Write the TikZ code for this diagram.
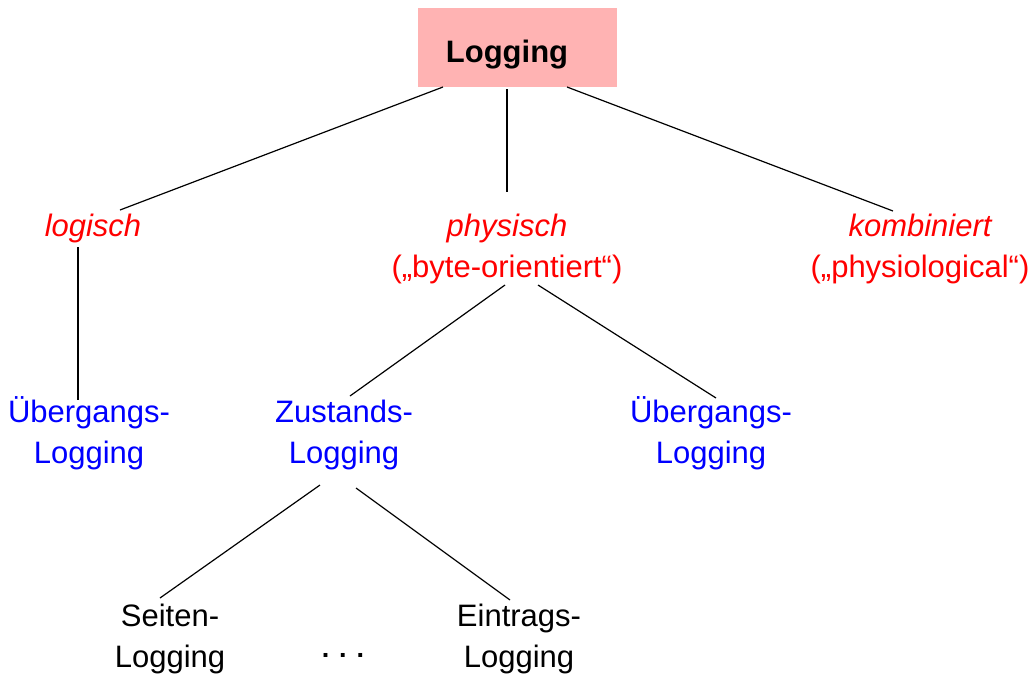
\documentclass[tikz,border=0pt]{standalone}
\usepackage{fontspec}
\setmainfont{Liberation Sans}
\definecolor{boxpink}{HTML}{FFB3B3}
\definecolor{redtxt}{HTML}{FF0000}
\definecolor{bluetxt}{HTML}{0000FF}
\tikzset{
  lbl/.style={align=center, inner sep=0pt, anchor=base, font=\fontsize{31}{41}\selectfont},
  cat/.style={lbl, text=redtxt},
  kind/.style={lbl, text=bluetxt},
  leaf/.style={lbl, text=black},
  conn/.style={draw=black, line width=1.2pt},
}
\begin{document}
\begin{tikzpicture}[x=1pt,y=-1pt]
\useasboundingbox (0,0) rectangle (1035,675);
\node[fill=boxpink, minimum width=199pt, minimum height=79pt, inner sep=0pt] (top) at (517.5,47.5) {};
\node[inner sep=0pt, anchor=base, font=\fontsize{31}{37}\selectfont\bfseries] (toptxt) at (507,62) {Logging};
\node[cat] (log) at (93,236) {\itshape logisch};
\node[cat] (phys) at (507,277) {\itshape physisch\\(„byte-orientiert“)};
\node[cat] (komb) at (920,277) {\itshape kombiniert\\(„physiological“)};
\node[kind] (ueb1) at (89,463) {Übergangs-\\Logging};
\node[kind] (zust) at (344,463) {Zustands-\\Logging};
\node[kind] (ueb2) at (711,463) {Übergangs-\\Logging};
\node[leaf] (seit) at (170,667) {Seiten-\\Logging};
\node[leaf] (eint) at (519,667) {Eintrags-\\Logging};
\node[leaf, font=\fontsize{27}{41}\selectfont\bfseries] (dots) at (343,657) {. . .};
\coordinate (t1) at (443,87); \coordinate (l1) at (120,210);
\coordinate (t2) at (507,89); \coordinate (p1) at (507,192);
\coordinate (t3) at (567,87); \coordinate (k1) at (893,211);
\coordinate (l2) at (78,247); \coordinate (u1) at (78,400);
\coordinate (p2) at (505,285); \coordinate (z1) at (350,396);
\coordinate (p3) at (538,285); \coordinate (u2) at (716,398);
\coordinate (z2) at (320,485); \coordinate (s1) at (160,598);
\coordinate (z3) at (356,488); \coordinate (e1) at (510,600);
\draw[conn] (t1) -- (l1);
\draw[conn] (t2) -- (p1);
\draw[conn] (t3) -- (k1);
\draw[conn] (l2) -- (u1);
\draw[conn] (p2) -- (z1);
\draw[conn] (p3) -- (u2);
\draw[conn] (z2) -- (s1);
\draw[conn] (z3) -- (e1);
\end{tikzpicture}
\end{document}
